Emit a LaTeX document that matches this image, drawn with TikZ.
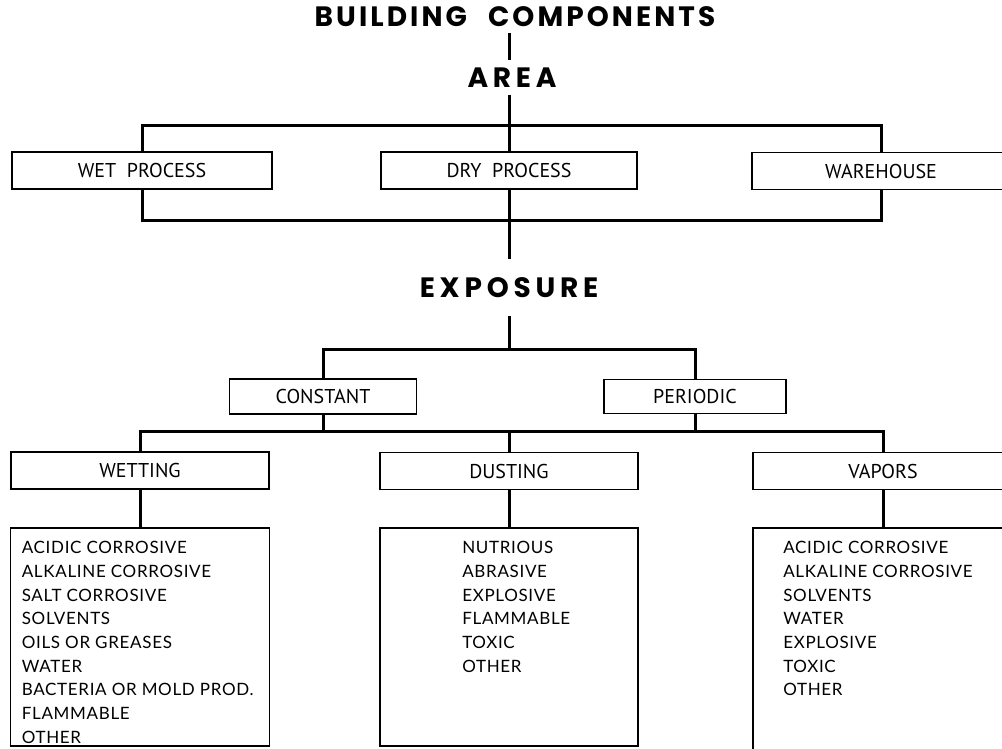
\documentclass[tikz,border=0pt]{standalone}
\usepackage{fontspec}
\usepackage{tikz}
\usetikzlibrary{positioning}
\newfontfamily\headfont{Poppins}[LetterSpace=17.0]
\newfontfamily\titlefont{Poppins}[LetterSpace=11.0]
\newfontfamily\boxfont{PT Sans}
\newfontfamily\listfont{Lato}[LetterSpace=4.0]

\begin{document}
\begin{tikzpicture}[x=1pt,y=-1pt,{head/.style={font=\headfont\bfseries\fontsize{28}{28}\selectfont,inner xsep=0pt,inner ysep=7pt}},{place/.style={rectangle,draw=black,line width=1.8pt,minimum height=37pt,inner sep=0pt,font=\boxfont\fontsize{20}{22}\selectfont}},{listbox/.style={rectangle,draw=black,line width=1.8pt,minimum width=259pt,minimum height=218pt,inner sep=0pt}},{listtext/.style={font=\listfont\fontsize{17}{23.7}\selectfont,align=left,inner sep=0pt}},{linest/.style={line width=3pt,line join=miter}}]
		\useasboundingbox (0,0) rectangle (1002,748);
		%%headings
		\node at (515,17) [head,font=\titlefont\bfseries\fontsize{28}{28}\selectfont,inner ysep=6pt] (title) {BUILDING\hspace{12pt} COMPONENTS};
		\node at (512,77.5) [head] (area) {AREA};
		\node at (509,287.5) [head,inner ysep=18pt] (exposure) {EXPOSURE};
		%%area boxes
		\node at (142,170.5) [place,minimum width=260pt] (wet) {WET\ \ PROCESS};
		\node at (509,170.5) [place,minimum width=256pt] (dry) {DRY\ \ PROCESS};
		\node at (881,171) [place,minimum width=258pt] (ware) {WAREHOUSE};
		%%exposure boxes
		\node at (323,396.5) [place,minimum width=187pt,minimum height=35pt] (constant) {CONSTANT};
		\node at (695,396.5) [place,minimum width=182pt,minimum height=34pt] (periodic) {PERIODIC};
		\node at (140,470.5) [place,minimum width=258pt] (wetting) {WETTING};
		\node at (509,471) [place,minimum width=258pt] (dusting) {DUSTING};
		\node at (883,471) [place,minimum width=260pt] (vapors) {VAPORS};
		%%lists
		\node at (140,637) [listbox] (wetlist) {};
		\node at (509,637) [listbox,minimum width=258pt] (dustlist) {};
		\node at (883,644) [listbox,minimum width=260pt,minimum height=232pt] (vaplist) {};
		\node [listtext,below right=14pt and 12pt of wetlist.north west] (wettext) {ACIDIC CORROSIVE\\ALKALINE CORROSIVE\\SALT CORROSIVE\\SOLVENTS\\OILS OR GREASES\\WATER\\BACTERIA OR MOLD PROD.\\FLAMMABLE\\OTHER};
		\node [listtext,below right=14pt and 83pt of dustlist.north west] (dusttext) {NUTRIOUS\\ABRASIVE\\EXPLOSIVE\\FLAMMABLE\\TOXIC\\OTHER};
		\node [listtext,below right=14pt and 31pt of vaplist.north west] (vaptext) {ACIDIC CORROSIVE\\ALKALINE CORROSIVE\\SOLVENTS\\WATER\\EXPLOSIVE\\TOXIC\\OTHER};

		%%junctions
		\coordinate (abus) at (509,125);
		\coordinate (bbus) at (509,220);
		\coordinate (ebus) at (509,349);
		\coordinate (lbus) at (509,431);
		%%connectors
		\draw [linest] (title.south -| abus) -- (area.north -| abus);
		\draw [linest] (area.south -| abus) -- (abus) -- (dry.north);
		\draw [linest] (wet.north) |- (abus) -| (ware.north);
		\draw [linest] (wet.south) |- (bbus) -| (ware.south);
		\draw [linest] (dry.south) -- (bbus) -- (exposure.north);
		\draw [linest] (exposure.south) -- (ebus);
		\draw [linest] (constant.north) |- (ebus) -| (periodic.north);
		\draw [linest] (constant.south) |- (lbus);
		\draw [linest] (periodic.south) |- (lbus);
		\draw [linest] (wetting.north) |- (lbus) -| (vapors.north);
		\draw [linest] (lbus) -- (dusting.north);
		\draw [linest] (wetting) -- (wetlist);
		\draw [linest] (dusting) -- (dustlist);
		\draw [linest] (vapors) -- (vaplist);
	\end{tikzpicture}
\end{document}
